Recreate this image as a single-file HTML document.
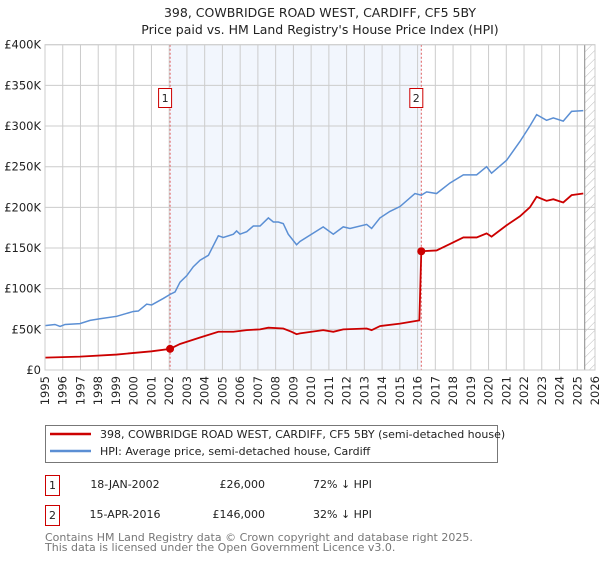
<!DOCTYPE html>
<html><head><meta charset="utf-8"><style>
body{margin:0;background:#fff;width:600px;height:560px;overflow:hidden;font-family:"DejaVu Sans","Liberation Sans",sans-serif;}
</style></head><body>
<svg width="600" height="560" xmlns="http://www.w3.org/2000/svg" font-family="DejaVu Sans, Liberation Sans, sans-serif">
<defs><pattern id="hatch" width="6" height="6" patternUnits="userSpaceOnUse" patternTransform="rotate(45)"><line x1="0" y1="0" x2="0" y2="6" stroke="#bbb" stroke-width="1"/></pattern></defs>
<text x="320" y="17" text-anchor="middle" font-size="12.5" fill="#222">398, COWBRIDGE ROAD WEST, CARDIFF, CF5 5BY</text>
<text x="320" y="34" text-anchor="middle" font-size="12.5" fill="#222">Price paid vs. HM Land Registry's House Price Index (HPI)</text>
<g id="plot"></g>
<g>
<rect x="45.5" y="425.5" width="452" height="37" fill="#fff" stroke="#777"/>
<line x1="50" y1="434" x2="91" y2="434" stroke="#cc0000" stroke-width="2.5"/>
<text x="100" y="438" font-size="11" fill="#222">398, COWBRIDGE ROAD WEST, CARDIFF, CF5 5BY (semi-detached house)</text>
<line x1="50" y1="451" x2="91" y2="451" stroke="#5b8fd4" stroke-width="2.5"/>
<text x="100" y="455" font-size="11" fill="#222">HPI: Average price, semi-detached house, Cardiff</text>
</g>
<g font-size="11" fill="#222">
<rect x="45.5" y="475.5" width="14" height="20" fill="#fff" stroke="#cc0000"/>
<text x="52.5" y="489" text-anchor="middle">1</text>
<text x="125" y="488" text-anchor="middle">18-JAN-2002</text>
<text x="265" y="488" text-anchor="end">£26,000</text>
<text x="313" y="488">72% ↓ HPI</text>
<rect x="45.5" y="505.5" width="14" height="20" fill="#fff" stroke="#cc0000"/>
<text x="52.5" y="519" text-anchor="middle">2</text>
<text x="125" y="518" text-anchor="middle">15-APR-2016</text>
<text x="265" y="518" text-anchor="end">£146,000</text>
<text x="313" y="518">32% ↓ HPI</text>
</g>
<text x="45" y="541" font-size="11" fill="#777">Contains HM Land Registry data © Crown copyright and database right 2025.</text>
<text x="45" y="551" font-size="11" fill="#777">This data is licensed under the Open Government Licence v3.0.</text>
</svg>
<script>
const hpiYears=[1995.0,1995.56,1995.85,1996.13,1996.97,1997.54,1998.1,1999.04,1999.98,2000.26,2000.73,2001.01,2001.67,2002.05,2002.33,2002.61,2002.99,2003.36,2003.74,2004.21,2004.77,2005.05,2005.62,2005.8,2005.99,2006.37,2006.74,2007.12,2007.59,2007.87,2008.15,2008.43,2008.71,2009.18,2009.37,2010.68,2011.25,2011.81,2012.19,2013.13,2013.41,2013.88,2014.44,2015.01,2015.85,2016.21,2016.51,2017.07,2017.83,2018.58,2019.33,2019.89,2020.17,2021.02,2021.77,2022.33,2022.71,2023.27,2023.65,2024.21,2024.68,2025.34];
const hpiValues=[54.6,56,53.5,56,57,61,63,66,72,72.5,81,80,88,93,96,108,116,127,135,141,165,163,167,171,167,170,177,177,187,182,182,180,167,154,158,176,167,176,174,179,174,187,195,201,217,215,219,217,230,240,240,250,242,258,281,300,314,307,310,306,318,319];
const priceYears=[1995.0,1996.97,1999.04,2001.01,2002.05,2002.61,2003.74,2004.77,2005.62,2006.37,2007.12,2007.59,2008.43,2008.9,2009.18,2009.37,2010.68,2011.25,2011.81,2013.13,2013.41,2013.88,2015.01,2016.1,2016.21,2017.07,2017.83,2018.58,2019.33,2019.89,2020.17,2021.02,2021.77,2022.33,2022.71,2023.27,2023.65,2024.21,2024.68,2025.34];
const priceValues=[15.2,16.4,19,23,26,32,40,47,47,49,50,52,51,47,44,45,49,47,50,51,49,54,57,61,146,147,155,163,163,168,164,178,189,200,213,208,210,206,215,217];
const saleYears=[2002.05,2016.21];
const saleValues=[26,146];
const saleLabels=["1","2"];
const yTicks=[0,50,100,150,200,250,300,350,400];
const yTickLabels=["£0","£50K","£100K","£150K","£200K","£250K","£300K","£350K","£400K"];
const xTicks=[1995,1996,1997,1998,1999,2000,2001,2002,2003,2004,2005,2006,2007,2008,2009,2010,2011,2012,2013,2014,2015,2016,2017,2018,2019,2020,2021,2022,2023,2024,2025,2026];
const dataEnd=2025.42;

const X0=45,X1=595,Y0=370,Y1=44.7,xmin=1995,xmax=2026,ymax=400;
const xs=v=>X0+(v-xmin)/(xmax-xmin)*(X1-X0);
const ys=v=>Y0-v/ymax*(Y0-Y1);
const NS="http://www.w3.org/2000/svg";
const g=document.getElementById('plot');


function mk(t,a,p){const e=document.createElementNS(NS,t);for(const k in a)e.setAttribute(k,a[k]);(p||g).appendChild(e);return e;}
const shade=mk('rect',{x:xs(saleYears[0]),y:Y1,width:xs(saleYears[1])-xs(saleYears[0]),height:Y0-Y1,fill:'#f2f6fd'});


const hat=mk('rect',{x:xs(dataEnd),y:Y1,width:X1-xs(dataEnd),height:Y0-Y1,fill:'url(#hatch)'});


xTicks.forEach(t=>{
 const l=mk('line',{x1:xs(t),x2:xs(t),y1:Y1,y2:Y0,stroke:'#ccc','stroke-width':1});
 
 
 const tx=mk('text',{x:0,y:0,'font-size':11.5,fill:'#222','text-anchor':'end',transform:`translate(${xs(t)+4},${Y0+6}) rotate(-90)`});
 tx.textContent=t;
 
 
});
yTicks.forEach((t,i)=>{
 const l=mk('line',{x1:X0,x2:X1,y1:ys(t),y2:ys(t),stroke:'#ccc','stroke-width':1});
 
 
 const tx=mk('text',{x:X0-4,y:ys(t)+4,'font-size':11.5,fill:'#222','text-anchor':'end'});
 tx.textContent=yTickLabels[i];
 
 
});
const el=mk('line',{x1:xs(dataEnd),x2:xs(dataEnd),y1:Y1,y2:Y0,stroke:'#888','stroke-width':1});


saleYears.forEach((s,i)=>{
 const l=mk('line',{x1:xs(s),x2:xs(s),y1:Y1,y2:Y0,stroke:'#e06060','stroke-width':1,'stroke-dasharray':'2,2'});
 
 
});
const hp=mk('polyline',{points:hpiYears.map((y,i)=>xs(y)+','+ys(hpiValues[i])).join(' '),fill:'none',stroke:'#5b8fd4','stroke-width':1.5});


const pp=mk('polyline',{points:priceYears.map((y,i)=>xs(y)+','+ys(priceValues[i])).join(' '),fill:'none',stroke:'#cc0000','stroke-width':1.8});


saleYears.forEach((s,i)=>{
 const c=mk('circle',{cx:xs(s),cy:ys(saleValues[i]),r:4,fill:'#cc0000'});
 
 
 const bx=xs(s)-11;
 const r=mk('rect',{x:bx-0.5,y:88.5,width:13,height:19,fill:'#fff',stroke:'#cc0000'});
 
 
 const t=mk('text',{x:bx+6,y:102,'font-size':11,fill:'#222','text-anchor':'middle'});
 t.textContent=saleLabels[i];
 
 
});
const ax=mk('rect',{x:X0,y:Y1,width:X1-X0,height:Y0-Y1,fill:'none',stroke:'#ccc'});


</script>
</body></html>
